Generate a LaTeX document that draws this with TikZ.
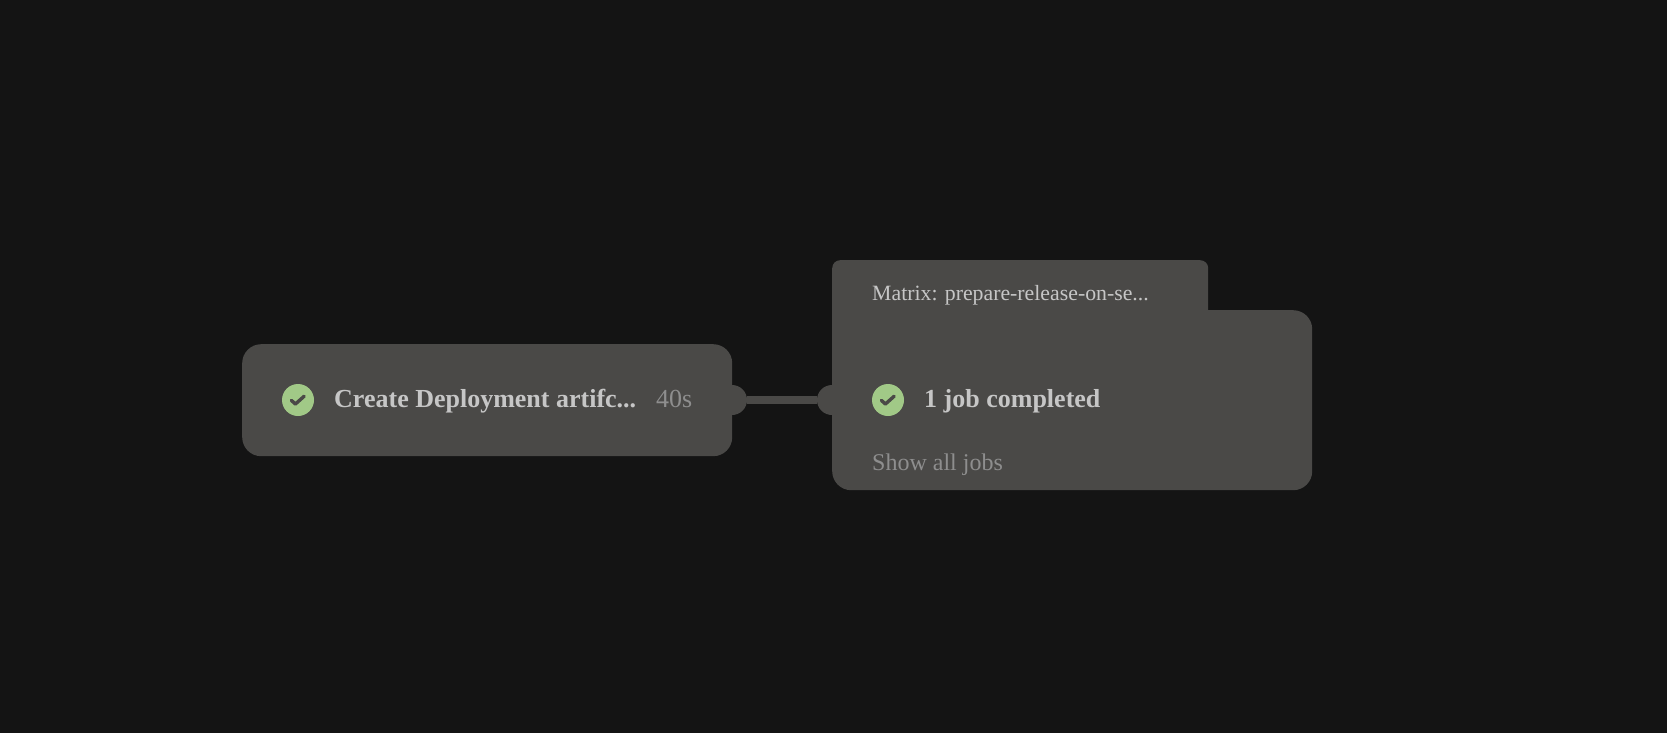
\documentclass[tikz,border=0pt]{standalone}
\usepackage{fontspec}
\setmainfont{Liberation Serif}
\definecolor{bgc}{HTML}{141414}
\definecolor{boxc}{HTML}{4A4947}
\definecolor{textc}{HTML}{C6C6C6}
\definecolor{mutedc}{HTML}{8E8E8E}
\definecolor{greenc}{HTML}{A1C987}
\tikzset{
  x=1pt,y=-1pt,
  jobbox/.style={fill=boxc,draw=none,rounded corners=19pt,inner sep=0pt,anchor=north west},
  bump/.style={circle,fill=boxc,draw=none,minimum size=30pt,inner sep=0pt},
  link/.style={draw=boxc,line width=8pt},
  status/.style={circle,fill=greenc,draw=none,minimum size=32pt,inner sep=0pt},
  checkmark/.style={draw=boxc,line width=3.4pt,line cap=round,line join=round},
  lbl/.style={anchor=base west,inner sep=0pt,text=textc},
  muted/.style={anchor=base west,inner sep=0pt,text=mutedc}
}
\newcommand{\boldlbl}{\fontsize{26pt}{30pt}\selectfont\bfseries}
\newcommand{\normlbl}{\fontsize{26pt}{30pt}\selectfont}
\newcommand{\showlbl}{\fontsize{24pt}{30pt}\selectfont}
\newcommand{\smalllbl}{\fontsize{21.8pt}{28pt}\selectfont}
\begin{document}
\begin{tikzpicture}
\useasboundingbox (0,0) rectangle (1667,733);
\fill[bgc] (0,0) rectangle (1667,733);
% connector stubs and line
\node[bump] (bumpA) at (732,400) {};
\node[bump] (bumpB) at (832,400) {};
\draw[link] (bumpA) -- (bumpB);
% left job
\node[jobbox,minimum width=490pt,minimum height=112pt] (job) at (242,344) {};
\node[status] (s1) at (298,400) {};
\draw[checkmark] ([shift={(-6.6,0.4)}]s1.center) -- ([shift={(-2.6,4)}]s1.center) -- ([shift={(6.2,-3.8)}]s1.center);
\node[lbl] (t1) at (334,407) {\boldlbl Create Deployment artifc...};
\node[muted] (t2) at (656,407) {\normlbl 40s};
% matrix tab and body
\node[fill=boxc,draw=none,rounded corners=8pt,inner sep=0pt,anchor=north west,minimum width=376pt,minimum height=100pt] (tab) at (832,260) {};
\node[jobbox,minimum width=480pt,minimum height=180pt] (matrix) at (832,310) {};
\node[lbl] (t3) at (872,300) {\smalllbl Matrix: prepare-release-on-se...};
\node[status] (s2) at (888,400) {};
\draw[checkmark] ([shift={(-6.6,0.4)}]s2.center) -- ([shift={(-2.6,4)}]s2.center) -- ([shift={(6.2,-3.8)}]s2.center);
\node[lbl] (t4) at (924,407) {\boldlbl 1 job completed};
\node[muted] (t5) at (872,470) {\showlbl Show all jobs};
\end{tikzpicture}
\end{document}
